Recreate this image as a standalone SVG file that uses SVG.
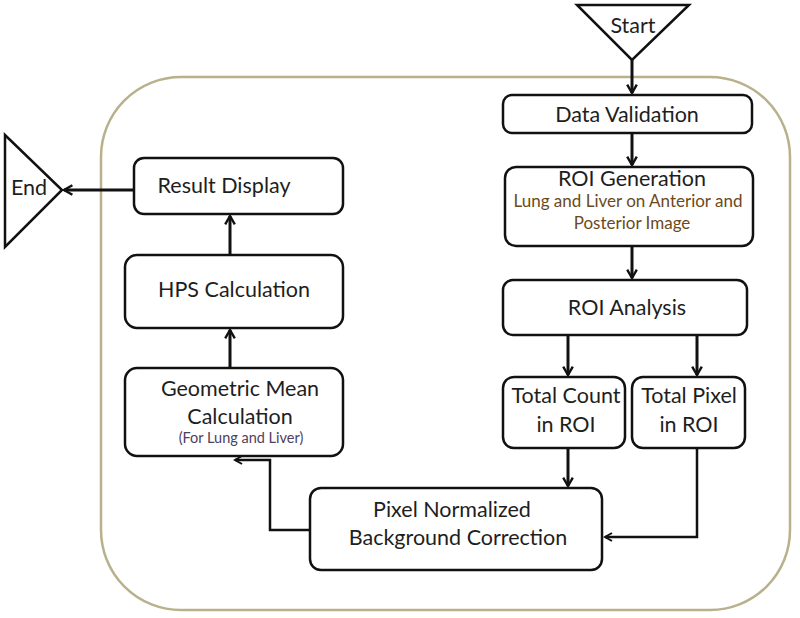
<svg xmlns="http://www.w3.org/2000/svg" width="800" height="618" viewBox="0 0 800 618">
<style>
.box{fill:#fff;stroke:#111;stroke-width:2.5}
.term{fill:#fff;stroke:#111;stroke-width:2.5;stroke-linejoin:miter}
.cont{fill:none;stroke:#b8b18c;stroke-width:2.5}
.t{font-family:Lato,"Liberation Sans",sans-serif;font-size:21.5px;fill:#1e1e1e;text-anchor:middle}
.s{font-family:Lato,"Liberation Sans",sans-serif;font-size:17px;fill:#6b4a20;text-anchor:middle}
.xs{font-family:Lato,"Liberation Sans",sans-serif;font-size:14.5px;fill:#4e4060;text-anchor:middle}
.c{fill:none;stroke:#111;stroke-width:3}
.ct{fill:none;stroke:#111;stroke-width:2.5}
</style>
<defs>
<marker id="ah" viewBox="0 0 10 10" refX="8" refY="5" markerWidth="4" markerHeight="4" orient="auto" markerUnits="strokeWidth">
<path d="M1,1 L8,5 L1,9" fill="none" stroke="#111" stroke-width="2"/>
</marker>
</defs>
<rect id="container" class="cont" x="101" y="77" width="689" height="533" rx="80" ry="80"/>
<g id="connectors">
<path class="c" d="M632,60 V93" marker-end="url(#ah)"/>
<path class="c" d="M632,133 V165" marker-end="url(#ah)"/>
<path class="c" d="M632,246 V278" marker-end="url(#ah)"/>
<path class="c" d="M568,335 V375" marker-end="url(#ah)"/>
<path class="c" d="M697,335 V375" marker-end="url(#ah)"/>
<path class="c" d="M568,448 V486" marker-end="url(#ah)"/>
<path class="ct" d="M697,448 V537 H605" marker-end="url(#ah)"/>
<path class="ct" d="M310,530 H270 V460 H235" marker-end="url(#ah)"/>
<path class="c" d="M230,368 V330" marker-end="url(#ah)"/>
<path class="c" d="M230,255 V216" marker-end="url(#ah)"/>
<path class="c" d="M134,190 H64" marker-end="url(#ah)"/>
</g>
<g id="start">
<polygon class="term" points="577,5 689,5 632,60"/>
<text class="t" x="633" y="33">Start</text>
</g>
<g id="data-validation">
<rect class="box" x="503" y="95" width="249" height="38" rx="9"/>
<text class="t" x="627" y="122">Data Validation</text>
</g>
<g id="roi-generation">
<rect class="box" x="505" y="167" width="248" height="79" rx="11"/>
<text class="t" x="632" y="186">ROI Generation</text>
<text class="s" x="628" y="207">Lung and Liver on Anterior and</text>
<text class="s" x="632" y="229">Posterior Image</text>
</g>
<g id="roi-analysis">
<rect class="box" x="503" y="280" width="244" height="55" rx="10"/>
<text class="t" x="627" y="315">ROI Analysis</text>
</g>
<g id="total-count">
<rect class="box" x="503" y="377" width="122" height="71" rx="11"/>
<text class="t" x="566" y="403">Total Count</text>
<text class="t" x="566" y="432">in ROI</text>
</g>
<g id="total-pixel">
<rect class="box" x="632" y="377" width="113" height="71" rx="11"/>
<text class="t" x="689" y="403">Total Pixel</text>
<text class="t" x="689" y="432">in ROI</text>
</g>
<g id="pixel-normalized">
<rect class="box" x="310" y="488" width="292" height="82" rx="11"/>
<text class="t" x="452" y="517">Pixel Normalized</text>
<text class="t" x="458" y="545">Background Correction</text>
</g>
<g id="geometric-mean">
<rect class="box" x="125" y="368" width="218" height="88" rx="12"/>
<text class="t" x="240" y="396">Geometric Mean</text>
<text class="t" x="240" y="424">Calculation</text>
<text class="xs" x="241" y="443">(For Lung and Liver)</text>
</g>
<g id="hps-calculation">
<rect class="box" x="125" y="255" width="218" height="73" rx="12"/>
<text class="t" x="234" y="297">HPS Calculation</text>
</g>
<g id="result-display">
<rect class="box" x="134" y="158" width="209" height="56" rx="10"/>
<text class="t" x="224" y="193">Result Display</text>
</g>
<g id="end">
<polygon class="term" points="5,135 5,247 62,190"/>
<text class="t" x="29" y="195">End</text>
</g>
</svg>
